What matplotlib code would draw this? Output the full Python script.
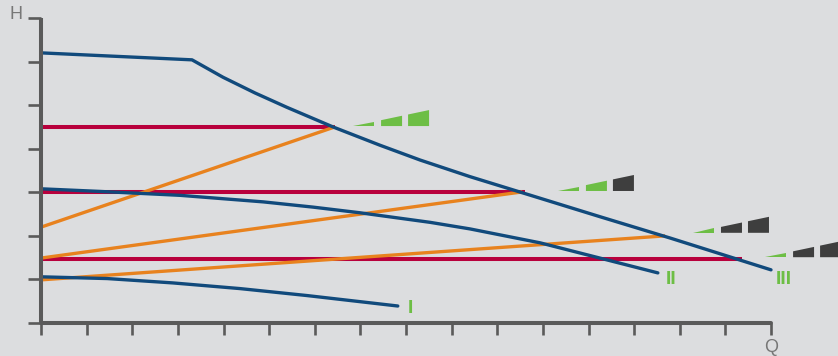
import matplotlib
matplotlib.use("Agg")
import matplotlib.pyplot as plt
from matplotlib.patches import Polygon

# ---- data (Q on x: 0..16, H on y: 0..7) ----
curve3_q = [0.0, 3.31, 3.99, 4.69, 5.39, 6.40, 7.43, 8.31, 9.40, 10.61, 12.25, 13.79, 16.0]
curve3_h = [6.20, 6.04, 5.64, 5.28, 4.95, 4.50, 4.08, 3.74, 3.36, 2.97, 2.44, 1.95, 1.22]
curve2_q = [0.0, 1.29, 3.05, 4.87, 5.96, 6.99, 8.53, 9.40, 10.94, 12.25, 13.52]
curve2_h = [3.08, 3.02, 2.93, 2.78, 2.66, 2.53, 2.31, 2.16, 1.84, 1.49, 1.15]
curve1_q = [0.0, 1.45, 2.89, 4.36, 5.83, 7.82]
curve1_h = [1.06, 1.02, 0.92, 0.79, 0.63, 0.39]

# proportional-pressure lines (orange): start/end
orange_q = [(0.0, 6.44), (0.0, 10.55), (0.0, 13.68)]
orange_h = [(2.20, 4.50), (1.49, 3.01), (0.99, 2.00)]

# constant-pressure lines (red): level and end Q
red_h = [4.50, 3.00, 1.47]
red_qend = [6.44, 10.61, 15.36]

# speed indicators: anchor Q, H and number of green segments
wedge_q = [6.84, 11.33, 14.29, 15.87]
wedge_h = [4.52, 3.03, 2.07, 1.51]
wedge_green = [3, 2, 1, 1]

labels = ["I", "II", "III"]
label_q = [8.09, 13.80, 16.29]
label_h = [0.23, 0.895, 0.895]

x_ticks = list(range(0, 17))
y_ticks = list(range(0, 8))

# ---- style ----
BG = "#dcdddf"
BLUE = "#114a7c"
ORANGE = "#e8821e"
RED = "#b8003c"
GREEN = "#6dbe45"
DARK = "#3e3e3e"
AXIS = "#5a5a5a"

fig = plt.figure(figsize=(8.38, 3.56), dpi=100, facecolor=BG)
ax = fig.add_axes([0, 0, 1, 1])
ax.set_facecolor(BG)
sx, sy = 45.625, 43.57
ax.set_xlim(-41 / sx, (838 - 41) / sx)
ax.set_ylim((323 - 356) / sy, 323 / sy)
ax.axis("off")

# axes
ax.plot([0, 0], [0, 7], color=AXIS, lw=2.9, solid_capstyle="butt", zorder=5)
ax.plot([0, 16], [0, 0], color=AXIS, lw=2.9, solid_capstyle="round", zorder=5)
for q in x_ticks:
    ax.plot([q, q], [0, -12 / sy], color=AXIS, lw=1.9, solid_capstyle="butt", zorder=5)
for h in y_ticks:
    ax.plot([0, -13 / sx], [h, h], color=AXIS, lw=1.9, solid_capstyle="butt", zorder=5)

ax.text(-25 / sx, 6.97, "H", fontsize=13, color="#777777", family="Liberation Sans",
        ha="center", va="baseline")
ax.text(16.0, -0.666, "Q", fontsize=13, color="#777777", family="Liberation Sans",
        ha="center", va="baseline")

# red lines
for h, qe in zip(red_h, red_qend):
    ax.plot([0, qe], [h, h], color=RED, lw=2.9, solid_capstyle="butt", zorder=2)

# orange lines
for qs, hs in zip(orange_q, orange_h):
    ax.plot(qs, hs, color=ORANGE, lw=2.4, solid_capstyle="butt", zorder=3)

# blue curves
for qs, hs in [(curve3_q, curve3_h), (curve2_q, curve2_h), (curve1_q, curve1_h)]:
    ax.plot(qs, hs, color=BLUE, lw=2.4, solid_capstyle="round",
            solid_joinstyle="round", zorder=4)

# speed wedges
W, H = 76 / sx, 16 / sy
segs = [(0, 21), (28, 49), (55, 76)]
for q0, h0, ng in zip(wedge_q, wedge_h, wedge_green):
    for i, (a, b) in enumerate(segs):
        xa, xb = q0 + a / sx, q0 + b / sx
        ya = h0 + H * (xa - q0) / W
        yb = h0 + H * (xb - q0) / W
        poly = Polygon([(xa, h0), (xb, h0), (xb, yb), (xa, ya)], closed=True,
                       facecolor=GREEN if i < ng else DARK, edgecolor="none", zorder=3)
        ax.add_patch(poly)

for t, q, h in zip(labels, label_q, label_h):
    ax.text(q, h, t, fontsize=14, color=GREEN, family="Liberation Sans",
            fontweight="bold", ha="center", va="baseline")

fig.savefig("out.png", dpi=100, facecolor=BG)
